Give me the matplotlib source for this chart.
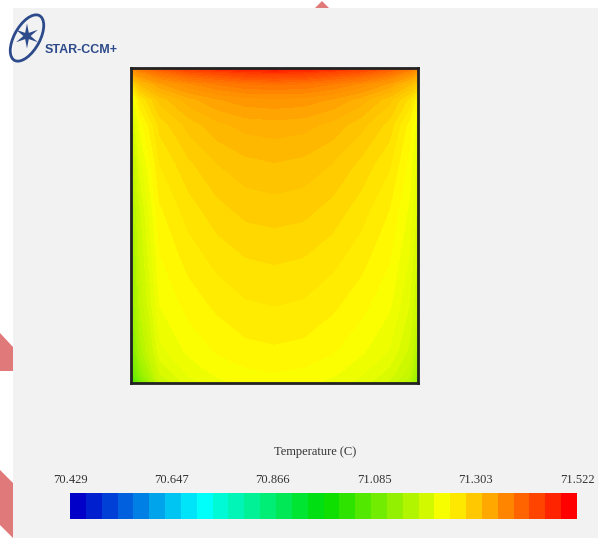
import numpy as np
import matplotlib.pyplot as plt
import matplotlib.cm as cm
from matplotlib.colors import LinearSegmentedColormap, BoundaryNorm
from matplotlib.patches import Polygon, Rectangle, Ellipse

# temperature (rows top -> bottom, cols left -> right)
x_pos = [0, 0.03, 0.1, 0.2, 0.3, 0.4, 0.5, 0.6, 0.7, 0.8, 0.9, 0.97, 1.0]
y_pos = [1.0, 0.985, 0.95, 0.9, 0.82, 0.7, 0.55, 0.4, 0.25, 0.1, 0.03, 0.0]
temps = [
    [71.38, 71.40, 71.43, 71.46, 71.485, 71.50, 71.51, 71.50, 71.485, 71.46, 71.43, 71.40, 71.38],
    [71.35, 71.37, 71.40, 71.425, 71.44, 71.455, 71.46, 71.455, 71.44, 71.425, 71.40, 71.37, 71.35],
    [71.28, 71.32, 71.35, 71.372, 71.387, 71.397, 71.40, 71.397, 71.387, 71.372, 71.35, 71.32, 71.30],
    [71.22, 71.27, 71.31, 71.335, 71.35, 71.358, 71.36, 71.358, 71.35, 71.335, 71.31, 71.28, 71.25],
    [71.19, 71.24, 71.287, 71.31, 71.325, 71.333, 71.335, 71.333, 71.325, 71.31, 71.29, 71.255, 71.23],
    [71.17, 71.22, 71.272, 71.292, 71.306, 71.314, 71.317, 71.314, 71.306, 71.292, 71.274, 71.245, 71.22],
    [71.15, 71.20, 71.258, 71.277, 71.29, 71.298, 71.30, 71.298, 71.29, 71.277, 71.26, 71.235, 71.21],
    [71.14, 71.19, 71.248, 71.265, 71.276, 71.283, 71.285, 71.283, 71.276, 71.265, 71.25, 71.225, 71.20],
    [71.13, 71.18, 71.238, 71.253, 71.263, 71.27, 71.272, 71.27, 71.263, 71.253, 71.24, 71.215, 71.19],
    [71.10, 71.16, 71.222, 71.24, 71.25, 71.256, 71.258, 71.256, 71.25, 71.24, 71.225, 71.20, 71.16],
    [71.07, 71.13, 71.203, 71.228, 71.24, 71.246, 71.248, 71.246, 71.24, 71.228, 71.21, 71.185, 71.14],
    [71.04, 71.10, 71.19, 71.22, 71.234, 71.24, 71.243, 71.24, 71.234, 71.22, 71.20, 71.17, 71.12],
]
tmin, tmax = 70.429, 71.522
tick_vals = [70.429, 70.647, 70.866, 71.085, 71.303, 71.522]
tick_labels = ["70.429", "70.647", "70.866", "71.085", "71.303", "71.522"]

W, H = 606, 538
fig = plt.figure(figsize=(W / 100, H / 100), dpi=100)
fig.patch.set_facecolor("white")

# slide background and pink decorations
fig.patches.append(Rectangle((13 / W, 0), 585 / W, 1 - 8 / H, transform=fig.transFigure,
                             facecolor="#f2f2f2", edgecolor="none", zorder=-5))
pink = "#e07a7a"
def px(pts):
    return [(a / W, 1 - b / H) for a, b in pts]
for pts in ([(0, 333), (13, 347), (13, 371), (0, 371)],
            [(0, 470), (13, 483), (13, 538), (0, 525)],
            [(315, 8), (322, 1), (329, 8)]):
    fig.patches.append(Polygon(px(pts), closed=True, transform=fig.transFigure,
                               facecolor=pink, edgecolor="none", zorder=-4))

cmap = LinearSegmentedColormap.from_list(
    "starccm", [(0, "#0000c8"), (0.25, "#00ffff"), (0.5, "#00dd00"),
                (0.75, "#ffff00"), (1, "#ff0000")])

ax = fig.add_axes([131 / W, 1 - 383 / H, 287 / W, 315 / H])
X, Y = np.meshgrid(x_pos, y_pos)
ax.contourf(X, Y, np.array(temps), levels=np.linspace(tmin, tmax, 97),
            cmap=cmap, vmin=tmin, vmax=tmax)
ax.set_xlim(0, 1)
ax.set_ylim(0, 1)
ax.set_xticks([])
ax.set_yticks([])
for s in ax.spines.values():
    s.set_linewidth(2)
    s.set_color("#222222")

# colorbar (banded)
cax = fig.add_axes([70 / W, 1 - 519 / H, 507 / W, 26 / H])
bands = np.linspace(tmin, tmax, 33)
sm = cm.ScalarMappable(norm=BoundaryNorm(bands, 256), cmap=cmap)
cb = fig.colorbar(sm, cax=cax, orientation="horizontal")
cb.outline.set_visible(False)
cb.minorticks_off()
cb.set_ticks(tick_vals)
cb.set_ticklabels(tick_labels)
cax.xaxis.set_ticks_position("top")
cax.tick_params(which="both", length=0, pad=5, labelsize=9)
for t in cax.get_xticklabels():
    t.set_family("Liberation Serif")
    t.set_color("#333333")
fig.text(315 / W, 1 - 452 / H, "Temperature (C)", ha="center", va="center",
         fontsize=9, family="Liberation Serif", color="#333333")

# STAR-CCM+ logo
fig.patches.append(Ellipse((27 / W, 1 - 38 / H), 26 / W, 50 / H, angle=-25,
                           transform=fig.transFigure, facecolor="none",
                           edgecolor="#2d4a8a", lw=2))
fig.text(27 / W, 1 - 38 / H, "\u2736", ha="center", va="center", fontsize=24,
         color="#2d4a8a", family="DejaVu Sans")
fig.text(45 / W, 1 - 50 / H, "STAR-CCM+", ha="left", va="center", fontsize=9,
         fontweight="bold", color="#2d4a8a", family="Liberation Sans")

fig.savefig("out.png", dpi=100)
